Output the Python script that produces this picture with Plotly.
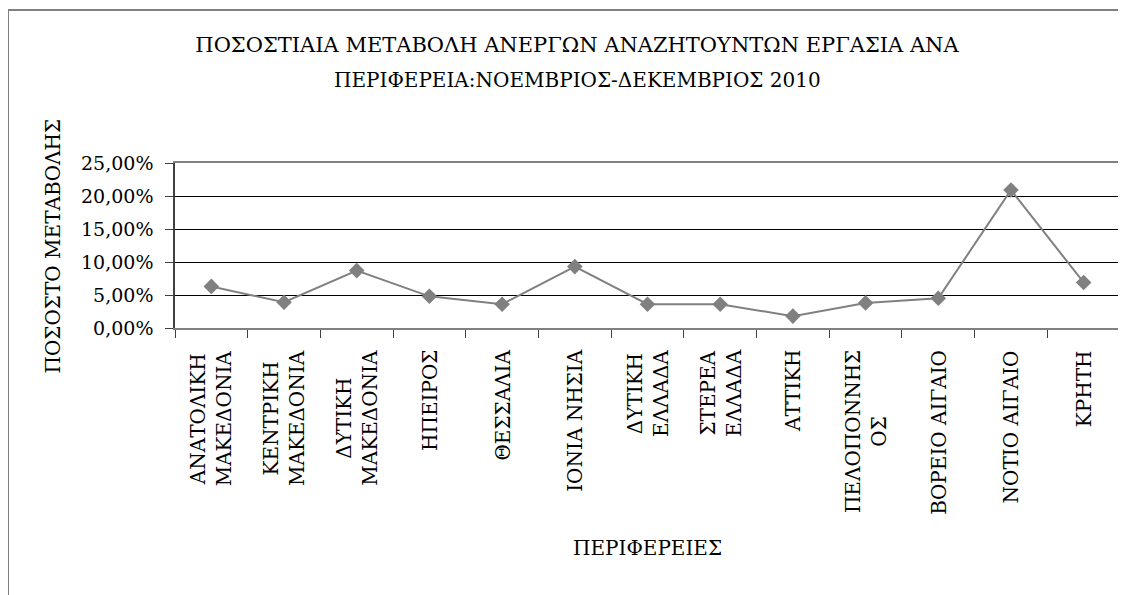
import plotly.graph_objects as go

categories = [
    "ΑΝΑΤΟΛΙΚΗ<br>ΜΑΚΕΔΟΝΙΑ",
    "ΚΕΝΤΡΙΚΗ<br>ΜΑΚΕΔΟΝΙΑ",
    "ΔΥΤΙΚΗ<br>ΜΑΚΕΔΟΝΙΑ",
    "ΗΠΕΙΡΟΣ",
    "ΘΕΣΣΑΛΙΑ",
    "ΙΟΝΙΑ ΝΗΣΙΑ",
    "ΔΥΤΙΚΗ<br>ΕΛΛΑΔΑ",
    "ΣΤΕΡΕΑ<br>ΕΛΛΑΔΑ",
    "ΑΤΤΙΚΗ",
    "ΠΕΛΟΠΟΝΝΗΣ<br>ΟΣ",
    "ΒΟΡΕΙΟ ΑΙΓΑΙΟ",
    "ΝΟΤΙΟ ΑΙΓΑΙΟ",
    "ΚΡΗΤΗ",
]
values = [0.063, 0.039, 0.087, 0.048, 0.036, 0.093, 0.036, 0.036, 0.018, 0.038, 0.045, 0.209, 0.069]
y_ticks = [0, 0.05, 0.10, 0.15, 0.20, 0.25]

title_line1 = "ΠΟΣΟΣΤΙΑΙΑ ΜΕΤΑΒΟΛΗ ΑΝΕΡΓΩΝ ΑΝΑΖΗΤΟΥΝΤΩΝ ΕΡΓΑΣΙΑ ΑΝΑ"
title_line2 = "ΠΕΡΙΦΕΡΕΙΑ:ΝΟΕΜΒΡΙΟΣ-ΔΕΚΕΜΒΡΙΟΣ 2010"
x_title = "ΠΕΡΙΦΕΡΕΙΕΣ"
y_title = "ΠΟΣΟΣΤΟ ΜΕΤΑΒΟΛΗΣ"

FONT = "DejaVu Serif, serif"
# page body has an 8px margin; figure is sized to fill the rest of the window
W, H = 1118, 587
L, R, T, B = 167, 6, 155, 267
pw, ph = W - L - R, H - T - B

def px_to_paper_x(px):
    return (px - L) / pw

def px_to_paper_y(py):
    return (H - B - py) / ph

fig = go.Figure()
fig.add_trace(go.Scatter(
    x=list(range(len(categories))), y=values, mode="lines+markers",
    line=dict(color="#808080", width=2),
    marker=dict(symbol="diamond", size=12, color="#808080"),
    customdata=[c.replace("<br>", " ") for c in categories],
    hovertemplate="%{customdata}: %{y:.2%}<extra></extra>",
))

annotations = [
    dict(text=c, x=i, xref="x", y=0, yref="paper", yshift=-20,
         xanchor="center", yanchor="top", textangle=-90, align="center",
         showarrow=False, font=dict(family=FONT, size=20, color="black"))
    for i, c in enumerate(categories)
]
annotations += [
    dict(text=title_line2, xref="paper", yref="paper", x=px_to_paper_x(569), y=px_to_paper_y(72),
         xanchor="center", yanchor="middle", showarrow=False,
         font=dict(family=FONT, size=20, color="black")),
    dict(text=x_title, xref="paper", yref="paper", x=0.5, y=px_to_paper_y(540),
         xanchor="center", yanchor="middle", showarrow=False,
         font=dict(family=FONT, size=20, color="black")),
    dict(text=y_title, xref="paper", yref="paper", x=px_to_paper_x(44), y=0.5,
         xanchor="center", yanchor="middle", textangle=-90, showarrow=False,
         font=dict(family=FONT, size=20, color="black")),
]

fig.update_layout(
    width=W, height=H,
    margin=dict(l=L, r=R, t=T, b=B, autoexpand=False),
    paper_bgcolor="white", plot_bgcolor="white",
    separators=",.",
    showlegend=False,
    font=dict(family=FONT, color="black", size=19),
    title=dict(text=title_line1, x=569 / W, xanchor="center", xref="container",
               y=1 - 37 / H, yref="container", yanchor="middle",
               font=dict(family=FONT, size=21, color="black")),
    xaxis=dict(
        range=[-0.5, len(categories) - 0.5],
        tickvals=[i - 0.5 for i in range(len(categories) + 1)],
        showticklabels=False,
        ticks="outside", ticklen=8, tickcolor="#404040", tickwidth=1,
        showline=True, linecolor="#808080", linewidth=2, mirror=True,
        showgrid=False, zeroline=False, automargin=False, fixedrange=True,
    ),
    yaxis=dict(
        range=[0, 0.25], tickvals=y_ticks, tickformat=".2%",
        ticks="outside", ticklen=8, tickcolor="#404040", tickwidth=1,
        ticklabelstandoff=8,
        tickfont=dict(family=FONT, size=19, color="black"),
        showline=True, linecolor="#404040", linewidth=1.5,
        showgrid=True, gridcolor="black", gridwidth=1, zeroline=False,
        automargin=False, fixedrange=True,
    ),
    annotations=annotations,
    shapes=[
        dict(type="line", xref="paper", yref="paper", x0=1, x1=1, y0=0, y1=1,
             line=dict(color="#808080", width=2)),
        dict(type="line", xref="paper", yref="paper",
             x0=px_to_paper_x(0), x1=px_to_paper_x(W + 5), y0=px_to_paper_y(2), y1=px_to_paper_y(2),
             line=dict(color="#808080", width=2)),
        dict(type="line", xref="paper", yref="paper",
             x0=px_to_paper_x(0), x1=px_to_paper_x(0), y0=px_to_paper_y(2), y1=px_to_paper_y(H + 5),
             line=dict(color="#808080", width=2)),
    ],
)

fig.write_html("out.html")
